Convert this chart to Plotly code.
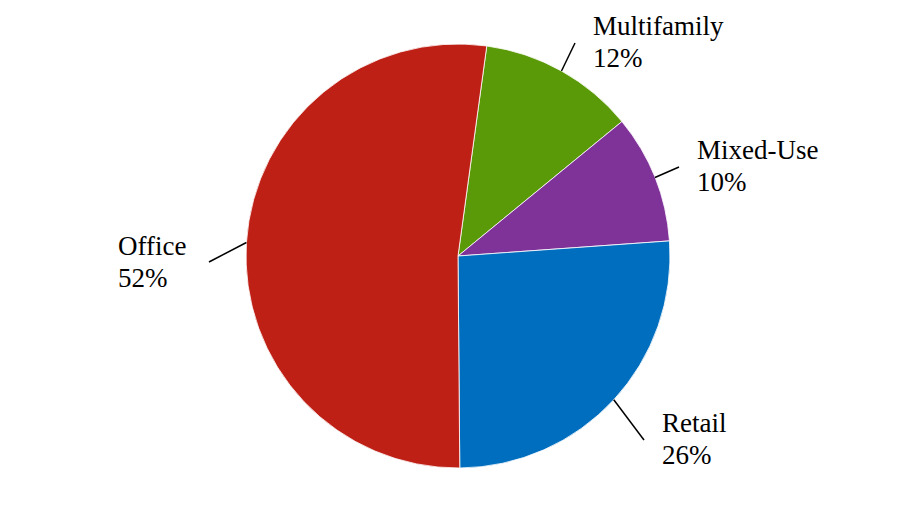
import math
import plotly.graph_objects as go

# ---- data ----
categories = ["Multifamily", "Mixed-Use", "Retail", "Office"]
shares = [11.9, 9.8, 26.0, 52.3]
pct_labels = ["12%", "10%", "26%", "52%"]

# ---- style / layout ----
colors = ["#5A9A08", "#7F3298", "#006EBE", "#BE2016"]
W, H = 914, 512
CX, CY, R = 458, 256, 212
ROTATION = 7.8
# label anchor (left x, first-line centre y) and leader-line outer end, in pixels
label_pos = [(591, 26), (695, 150), (660, 423), (116, 246)]
line_end = [(575, 43), (679, 167), (644, 440), (209, 262)]
LINE_GAP = 32
FONT = "Liberation Serif"

fig = go.Figure(go.Pie(
    labels=categories,
    values=shares,
    sort=False,
    direction="clockwise",
    rotation=ROTATION,
    marker=dict(colors=colors, line=dict(color="white", width=0.8)),
    textinfo="none",
    hoverinfo="label+percent",
    domain=dict(x=[(CX - R) / W, (CX + R) / W], y=[1 - (CY + R) / H, 1 - (CY - R) / H]),
    showlegend=False,
))

def px(x, y):
    return x / W, 1 - y / H

total = sum(shares)
cum = 0
shapes, annotations = [], []
for i, (cat, v) in enumerate(zip(categories, shares)):
    mid = ROTATION + (cum + v / 2) / total * 360
    cum += v
    a = math.radians(mid)
    ex, ey = CX + R * math.sin(a), CY - R * math.cos(a)
    x0, y0 = px(ex, ey)
    x1, y1 = px(*line_end[i])
    shapes.append(dict(type="line", xref="paper", yref="paper", x0=x0, y0=y0, x1=x1, y1=y1,
                       line=dict(color="black", width=1.5)))
    lx, ly = label_pos[i]
    for j, txt in enumerate([cat, pct_labels[i]]):
        ax, ay = px(lx, ly + j * LINE_GAP)
        annotations.append(dict(text=txt, x=ax, y=ay, xref="paper", yref="paper",
                                xanchor="left", yanchor="middle", showarrow=False,
                                font=dict(family=FONT, size=27, color="black")))

fig.update_layout(
    width=W, height=H,
    margin=dict(l=0, r=0, t=0, b=0),
    paper_bgcolor="white", plot_bgcolor="white",
    shapes=shapes, annotations=annotations,
)

fig.write_html("out.html", config={"displayModeBar": False},
               post_script="document.body.style.margin='0';document.body.style.padding='0';")
